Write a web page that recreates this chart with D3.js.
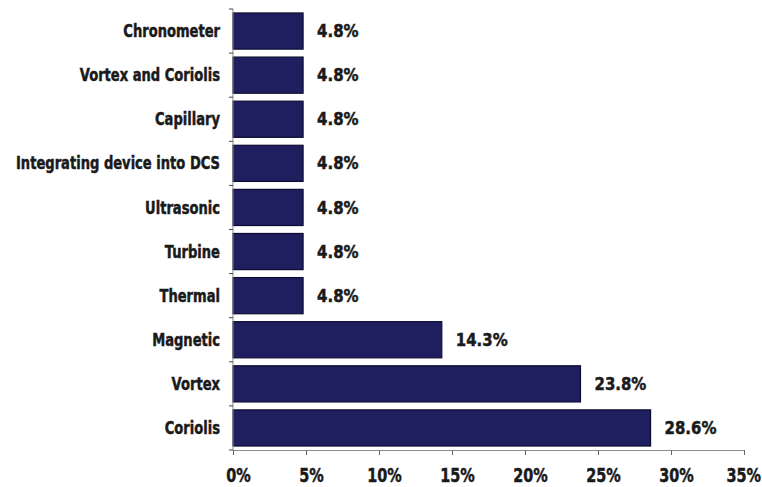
<!DOCTYPE html>
<html>
<head>
<meta charset="utf-8">
<script src="https://cdn.jsdelivr.net/npm/d3@7"></script>
<style>
  html, body { margin: 0; padding: 0; background: #ffffff; }
  svg { display: block; }
  .lbl { font-family: "DejaVu Sans", sans-serif; font-weight: bold; fill: #1a1a1a; stroke: #1a1a1a; stroke-width: 0.5px; }
</style>
</head>
<body>
<svg id="chart" width="762" height="487"></svg>
<script>
// Flow technology categories, listed top to bottom
const categories = [
  "Chronometer",
  "Vortex and Coriolis",
  "Capillary",
  "Integrating device into DCS",
  "Ultrasonic",
  "Turbine",
  "Thermal",
  "Magnetic",
  "Vortex",
  "Coriolis"
];

// Share of responses (%) for each category
const shares = [4.8, 4.8, 4.8, 4.8, 4.8, 4.8, 4.8, 14.3, 23.8, 28.6];

// Value axis ticks (%)
const xTicks = [0, 5, 10, 15, 20, 25, 30, 35];

const data = categories.map((c, i) => ({ name: c, value: shares[i] }));

// Horizontal squeeze factors that give the bold face a condensed look
const squeezeCat = 0.77;
const squeezeVal = 0.88;
const squeezeTick = 0.76;

const W = 762;
const svg = d3.select("#chart");

const x = d3.scaleLinear().domain([0, 35]).range([233, 744]);
const y = d3.scaleBand().domain(categories).range([9, 450])
  .paddingInner(0.18).paddingOuter(0.09);

const axisColor = "#8c8c8c";

// Bars
svg.append("g").selectAll("rect").data(data).join("rect")
  .attr("x", x(0))
  .attr("y", d => y(d.name))
  .attr("width", d => x(d.value) - x(0))
  .attr("height", y.bandwidth())
  .attr("fill", "#1f1f5f")
  .attr("stroke", "#0c0c33")
  .attr("stroke-width", 1.2);

// Category axis: vertical line with ticks on band boundaries
const [y0, y1] = y.range();
const boundaries = d3.range(categories.length + 1).map(i => y0 + i * y.step());
svg.append("line")
  .attr("x1", x(0)).attr("x2", x(0))
  .attr("y1", y0).attr("y2", y1)
  .attr("stroke", axisColor).attr("stroke-width", 1);
svg.append("g").selectAll("line").data(boundaries).join("line")
  .attr("x1", x(0) - 4).attr("x2", x(0))
  .attr("y1", d => d).attr("y2", d => d)
  .attr("stroke", "#444").attr("stroke-width", 1);

// Value axis
const xAxis = d3.axisBottom(x)
  .tickValues(xTicks)
  .tickSize(5)
  .tickFormat(d => d + "%");
const gx = svg.append("g").attr("transform", `translate(0,${y1})`).call(xAxis);
gx.select(".domain").attr("stroke", axisColor).attr("stroke-width", 1);
gx.selectAll(".tick line").attr("stroke", "#666");
gx.selectAll(".tick text")
  .attr("class", "lbl")
  .attr("x", null)
  .attr("y", null)
  .attr("dy", null)
  .style("font-size", "19px")
  .each(function () {
    // offset labels slightly right, but keep them inside the canvas
    let dx = 5;
    const t = d3.select(this);
    t.attr("transform", `translate(${dx},32) scale(${squeezeTick},1)`);
    const r = this.getBoundingClientRect();
    if (r.right > W - 1) dx -= (r.right - (W - 1));
    t.attr("transform", `translate(${dx},32) scale(${squeezeTick},1)`);
  });

// Category labels
svg.append("g").selectAll("text").data(data).join("text")
  .attr("class", "lbl")
  .attr("transform", d => `translate(${x(0) - 13},${y(d.name) + y.bandwidth() / 2}) scale(${squeezeCat},1)`)
  .attr("dy", "0.36em")
  .attr("text-anchor", "end")
  .style("font-size", "17px")
  .text(d => d.name);

// Value labels
svg.append("g").selectAll("text").data(data).join("text")
  .attr("class", "lbl")
  .attr("transform", d => `translate(${x(d.value) + 14},${y(d.name) + y.bandwidth() / 2}) scale(${squeezeVal},1)`)
  .attr("dy", "0.36em")
  .style("font-size", "17px")
  .text(d => d.value.toFixed(1) + "%");
</script>
</body>
</html>
